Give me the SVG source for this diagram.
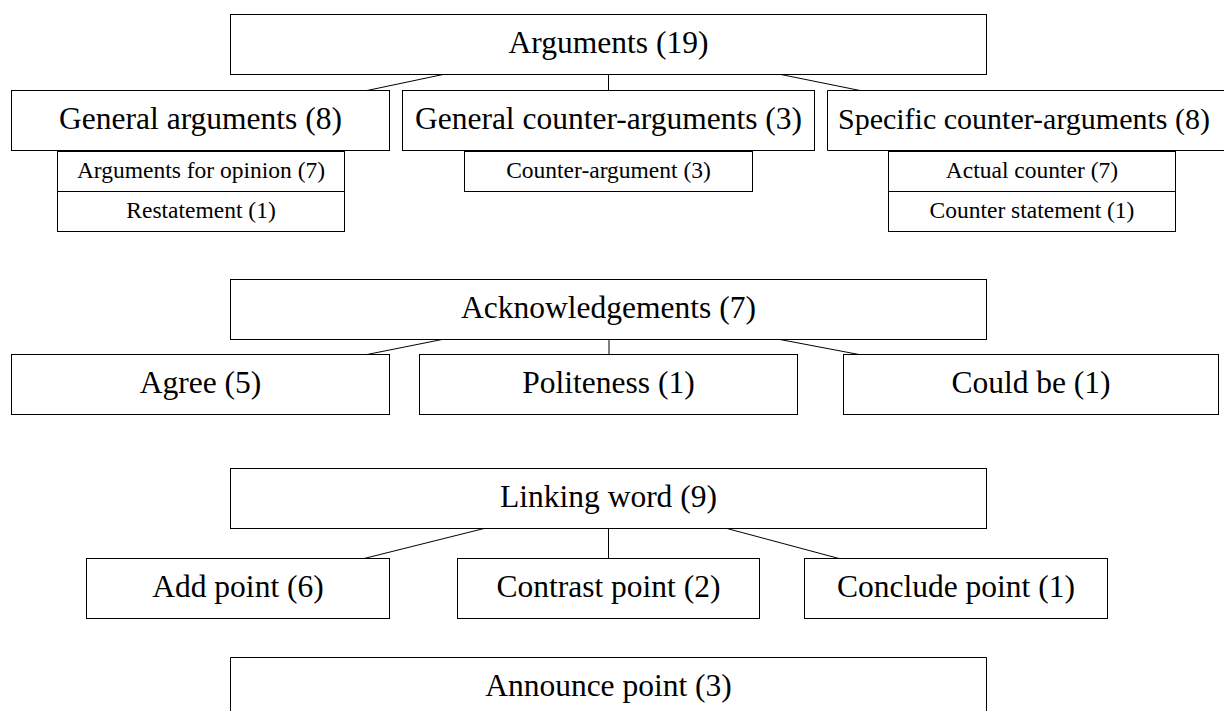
<svg xmlns="http://www.w3.org/2000/svg" width="1224" height="711" viewBox="0 0 1224 711">
<style>
rect{fill:#fff;stroke:#000;stroke-width:1}
path{fill:#fff;stroke:#000;stroke-width:1}
line{stroke:#000;stroke-width:1}
text{font-family:"Liberation Serif","Times New Roman",serif;fill:#000;text-anchor:middle}
.b{font-size:31.5px}
.s{font-size:23.5px}
</style>
<rect x="0" y="0" width="1224" height="711" style="fill:#fff;stroke:none"/>
<g id="connectors">
<line x1="443" y1="74.5" x2="367" y2="90.5"/>
<line x1="608.5" y1="74.5" x2="608.5" y2="90.5"/>
<line x1="781" y1="74.5" x2="860" y2="90.5"/>
<line x1="442" y1="339.5" x2="367" y2="354.5"/>
<line x1="609" y1="339.5" x2="609" y2="354.5"/>
<line x1="780" y1="339.5" x2="859" y2="354.5"/>
<line x1="484" y1="528.5" x2="364" y2="558.5"/>
<line x1="608.5" y1="528.5" x2="608.5" y2="558.5"/>
<line x1="727" y1="528.5" x2="839" y2="558.5"/>
</g>
<g id="arguments"><rect x="230.5" y="14.5" width="756" height="60"/><text class="b" x="608.5" y="53">Arguments (19)</text></g>
<g id="general-arguments"><rect x="11.5" y="90.5" width="378" height="60"/><text class="b" x="200.5" y="129">General arguments (8)</text></g>
<g id="arguments-for-opinion"><rect x="57.5" y="151.5" width="287" height="40"/><text class="s" x="201" y="178">Arguments for opinion (7)</text></g>
<g id="restatement"><rect x="57.5" y="191.5" width="287" height="40"/><text class="s" x="201" y="218">Restatement (1)</text></g>
<g id="general-counter-arguments"><rect x="402.5" y="90.5" width="412" height="60"/><text class="b" x="608.5" y="129">General counter-arguments (3)</text></g>
<g id="counter-argument"><rect x="464.5" y="151.5" width="288" height="40"/><text class="s" x="608.5" y="178">Counter-argument (3)</text></g>
<g id="specific-counter-arguments"><path d="M1224 90.5H827.5V150.5H1224"/><text x="1024" y="129" style="font-size:30px">Specific counter-arguments (8)</text></g>
<g id="actual-counter"><rect x="888.5" y="151.5" width="287" height="40"/><text class="s" x="1032" y="178">Actual counter (7)</text></g>
<g id="counter-statement"><rect x="888.5" y="191.5" width="287" height="40"/><text class="s" x="1032" y="218">Counter statement (1)</text></g>
<g id="acknowledgements"><rect x="230.5" y="279.5" width="756" height="60"/><text class="b" x="608.5" y="318">Acknowledgements (7)</text></g>
<g id="agree"><rect x="11.5" y="354.5" width="378" height="60"/><text class="b" x="200.5" y="393">Agree (5)</text></g>
<g id="politeness"><rect x="419.5" y="354.5" width="378" height="60"/><text class="b" x="608.5" y="393">Politeness (1)</text></g>
<g id="could-be"><rect x="843.5" y="354.5" width="375" height="60"/><text class="b" x="1031" y="393">Could be (1)</text></g>
<g id="linking-word"><rect x="230.5" y="468.5" width="756" height="60"/><text class="b" x="608.5" y="507">Linking word (9)</text></g>
<g id="add-point"><rect x="86.5" y="558.5" width="303" height="60"/><text class="b" x="238" y="597">Add point (6)</text></g>
<g id="contrast-point"><rect x="457.5" y="558.5" width="302" height="60"/><text class="b" x="608.5" y="597">Contrast point (2)</text></g>
<g id="conclude-point"><rect x="804.5" y="558.5" width="303" height="60"/><text class="b" x="956" y="597">Conclude point (1)</text></g>
<g id="announce-point"><path d="M230.5 711V657.5H986.5V711"/><text class="b" x="608.5" y="696">Announce point (3)</text></g>
</svg>
